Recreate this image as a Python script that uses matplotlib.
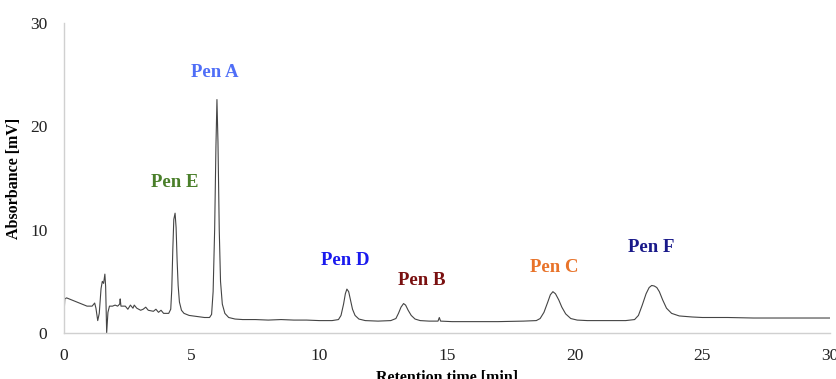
import matplotlib
matplotlib.use("Agg")
import matplotlib.pyplot as plt

# chromatogram trace (retention time [min], absorbance [mV])
time = [0.0, 0.03, 0.1, 0.3, 0.6, 0.9, 1.1, 1.2, 1.25, 1.32, 1.38, 1.45, 1.5, 1.55, 1.6, 1.63,
        1.67, 1.72, 1.78, 1.9, 2.0, 2.1, 2.18, 2.2, 2.23, 2.4, 2.5, 2.6, 2.7, 2.75, 2.85, 3.0,
        3.1, 3.2, 3.3, 3.5, 3.6, 3.7, 3.8, 3.9, 4.1, 4.18, 4.22, 4.26, 4.3, 4.35, 4.39, 4.43,
        4.47, 4.52, 4.6, 4.7, 4.9, 5.2, 5.5, 5.7, 5.78, 5.84, 5.9, 5.95, 5.99, 6.03, 6.08,
        6.13, 6.2, 6.3, 6.45, 6.7, 7.0, 7.5, 8.0, 8.5, 9.0, 9.5, 10.0, 10.5, 10.75, 10.85,
        10.95, 11.02, 11.08, 11.15, 11.22, 11.3, 11.4, 11.55, 11.8, 12.3, 12.8, 13.0, 13.1,
        13.2, 13.3, 13.38, 13.48, 13.6, 13.75, 13.95, 14.3, 14.65, 14.7, 14.75, 15.2, 16.0,
        17.0, 18.0, 18.5, 18.65, 18.8, 18.95, 19.05, 19.15, 19.25, 19.38, 19.5, 19.65,
        19.85, 20.1, 20.5, 21.0, 21.5, 22.0, 22.35, 22.5, 22.65, 22.8, 22.92, 23.02, 23.12,
        23.22, 23.32, 23.45, 23.6, 23.8, 24.1, 24.6, 25.0, 26.0, 27.0, 28.0, 29.0, 30.0]
absorbance = [1.8, 3.3, 3.4, 3.2, 2.9, 2.6, 2.6, 2.9, 2.4, 1.2, 1.9, 4.3, 5.0, 4.8, 5.7, 4.5,
              0.0, 2.0, 2.6, 2.6, 2.7, 2.6, 2.8, 3.3, 2.6, 2.6, 2.3, 2.7, 2.4, 2.7, 2.4, 2.2,
              2.3, 2.5, 2.2, 2.1, 2.3, 2.0, 2.2, 1.9, 1.9, 2.3, 4.2, 8.0, 11.0, 11.6, 10.2, 7.0,
              4.6, 3.0, 2.2, 1.9, 1.7, 1.6, 1.5, 1.5, 1.8, 4.0, 10.0, 18.0, 22.6, 18.5, 10.0,
              5.0, 2.8, 1.9, 1.5, 1.35, 1.3, 1.3, 1.25, 1.3, 1.25, 1.25, 1.2, 1.2, 1.3, 1.7,
              2.8, 3.8, 4.25, 4.0, 3.2, 2.3, 1.7, 1.35, 1.2, 1.15, 1.2, 1.4, 1.9,
              2.5, 2.85, 2.7, 2.2, 1.7, 1.35, 1.2, 1.15, 1.15, 1.5, 1.15, 1.1, 1.1,
              1.1, 1.15, 1.2, 1.4, 2.0, 3.0, 3.7, 4.0, 3.8, 3.2, 2.5, 1.85,
              1.4, 1.25, 1.2, 1.2, 1.2, 1.2, 1.3, 1.7, 2.7, 3.8, 4.4, 4.6, 4.55,
              4.4, 4.0, 3.2, 2.4, 1.9, 1.65, 1.55, 1.5, 1.5, 1.45, 1.45, 1.45, 1.45]

# peak labels
peak_names = ["Pen A", "Pen E", "Pen D", "Pen B", "Pen C", "Pen F"]
label_x = [5.9, 4.35, 11.0, 14.0, 19.2, 23.0]
label_y = [25.2, 14.6, 7.0, 5.1, 6.3, 8.3]
label_colors = ["#4f6ef7", "#4a7f2a", "#1a1aee", "#7a1010", "#e8732a", "#1a1a8a"]

serif = ["Liberation Serif", "DejaVu Serif"]

fig = plt.figure(figsize=(8.37, 3.79), dpi=100)
ax = fig.add_axes([0.0765, 0.1214, 0.915, 0.8176])

ax.plot(time, absorbance, color="#444444", linewidth=0.8)

for name, x, y, c in zip(peak_names, label_x, label_y, label_colors):
    ax.text(x, y, name, color=c, fontsize=13.5, fontweight="bold", family=serif,
            ha="center", va="center")

ax.set_xlim(0, 30)
ax.set_ylim(0, 30)
ax.set_xticks(range(0, 31, 5))
ax.set_yticks(range(0, 31, 10))
ax.tick_params(length=0, labelsize=12.5, colors="#222222")
ax.tick_params(axis="x", pad=11)
ax.tick_params(axis="y", pad=12)
for lbl in ax.get_xticklabels() + ax.get_yticklabels():
    lbl.set_family(serif)

for side in ["top", "right"]:
    ax.spines[side].set_visible(False)
for side in ["left", "bottom"]:
    ax.spines[side].set_color("#d0d0d0")
    ax.spines[side].set_linewidth(1.0)

ax.set_xlabel("Retention time [min]", fontsize=11.5, fontweight="bold", family=serif, labelpad=4)
ax.set_ylabel("Absorbance [mV]", fontsize=11.5, fontweight="bold", family=serif, labelpad=6)

fig.savefig("out.png", dpi=100)
